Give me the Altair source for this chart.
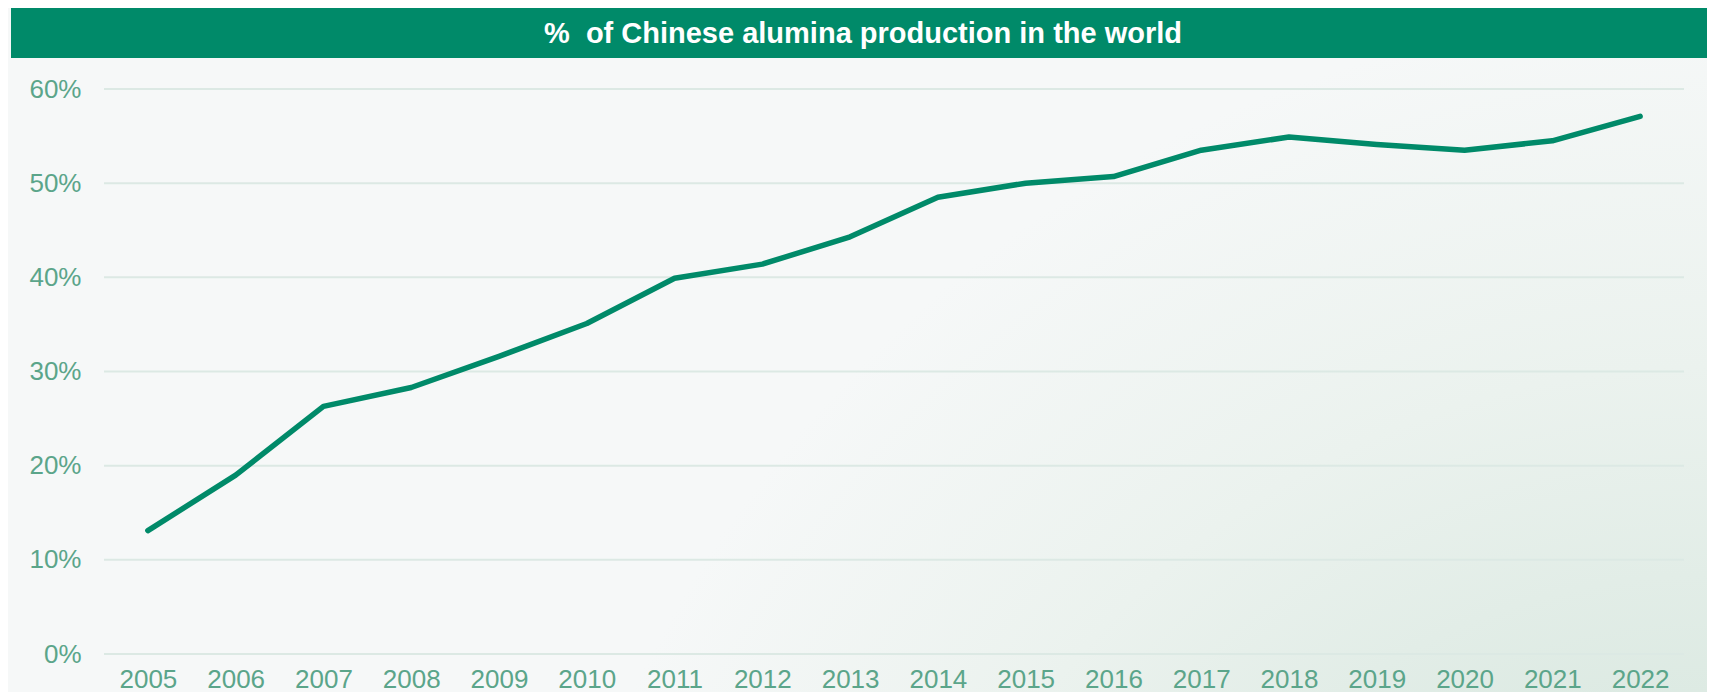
import altair as alt
import pandas as pd

# ---- data ----
years = [str(y) for y in range(2005, 2023)]
share = [0.131, 0.190, 0.263, 0.283, 0.316, 0.351, 0.399, 0.414, 0.443, 0.485,
         0.500, 0.507, 0.535, 0.549, 0.541, 0.535, 0.545, 0.571]
grid_values = [0.0, 0.1, 0.2, 0.3, 0.4, 0.5, 0.6]
title_text = ["%\u00a0 of Chinese alumina production in the world"]

GREEN = "#008a69"
LABEL = "#5ba58a"
BG = "#f6f8f8"

W, H = 1580, 565
PAD = {"left": 96, "top": 81, "right": 23, "bottom": 38}

df = pd.DataFrame({"year": years, "share": share})
grid_df = pd.DataFrame({"g": grid_values})
title_df = pd.DataFrame({"t": title_text})
one = pd.DataFrame({"k": [0]})

yscale = alt.Scale(domain=[0, 0.6], nice=False, zero=True)
y_axis = alt.Axis(title=None, values=grid_values, format=".0%",
                  domain=False, ticks=False, grid=False,
                  labelFont="Liberation Sans", labelFontSize=26,
                  labelColor=LABEL, labelPadding=23, zindex=1)

background = alt.Chart(one).mark_rect(
    color=alt.Gradient(
        gradient="radial",
        stops=[
            alt.GradientStop(offset=0, color="#c8ded2"),
            alt.GradientStop(offset=0.35, color="#d9e8e0"),
            alt.GradientStop(offset=0.7, color="#ebf2ee"),
            alt.GradientStop(offset=1, color=BG),
        ],
        x1=1.0, y1=1.0, r1=0.0,
        x2=1.0, y2=1.0, r2=0.7,
    )
).encode(
    x=alt.value(-PAD["left"]), x2=alt.value(W + PAD["right"]),
    y=alt.value(-PAD["top"]), y2=alt.value(H + PAD["bottom"]),
)

title_bar = alt.Chart(one).mark_rect(color=GREEN).encode(
    x=alt.value(-93), x2=alt.value(W + PAD["right"]),
    y=alt.value(-PAD["top"]), y2=alt.value(-31),
)

title = alt.Chart(title_df).mark_text(
    color="white", font="Liberation Sans", fontWeight="bold", fontSize=29,
    align="center", baseline="middle",
).encode(text="t:N", x=alt.value(759), y=alt.value(-55))

grid = alt.Chart(grid_df).mark_rule(color="#dce9e4", strokeWidth=2).encode(
    y=alt.Y("g:Q", scale=yscale, axis=y_axis),
    x=alt.value(0), x2=alt.value(W),
)

line = alt.Chart(df).mark_line(
    color=GREEN, strokeWidth=5.5, strokeCap="round", strokeJoin="round"
).encode(
    x=alt.X("year:O", sort=years, scale=alt.Scale(type="point", padding=0.5),
            axis=alt.Axis(title=None, labelAngle=0, domain=False, ticks=False,
                          labelFont="Liberation Sans", labelFontSize=26,
                          labelColor=LABEL, labelPadding=12, grid=False,
                          zindex=1)),
    y=alt.Y("share:Q", scale=yscale, axis=y_axis),
)

chart = alt.layer(background, title_bar, grid, line, title).properties(
    width=W, height=H,
    padding=PAD,
    autosize=alt.AutoSizeParams(type="none"),
    background=BG,
).configure_view(stroke=None)

chart.save("out.html", embed_options={"renderer": "svg", "actions": False})
